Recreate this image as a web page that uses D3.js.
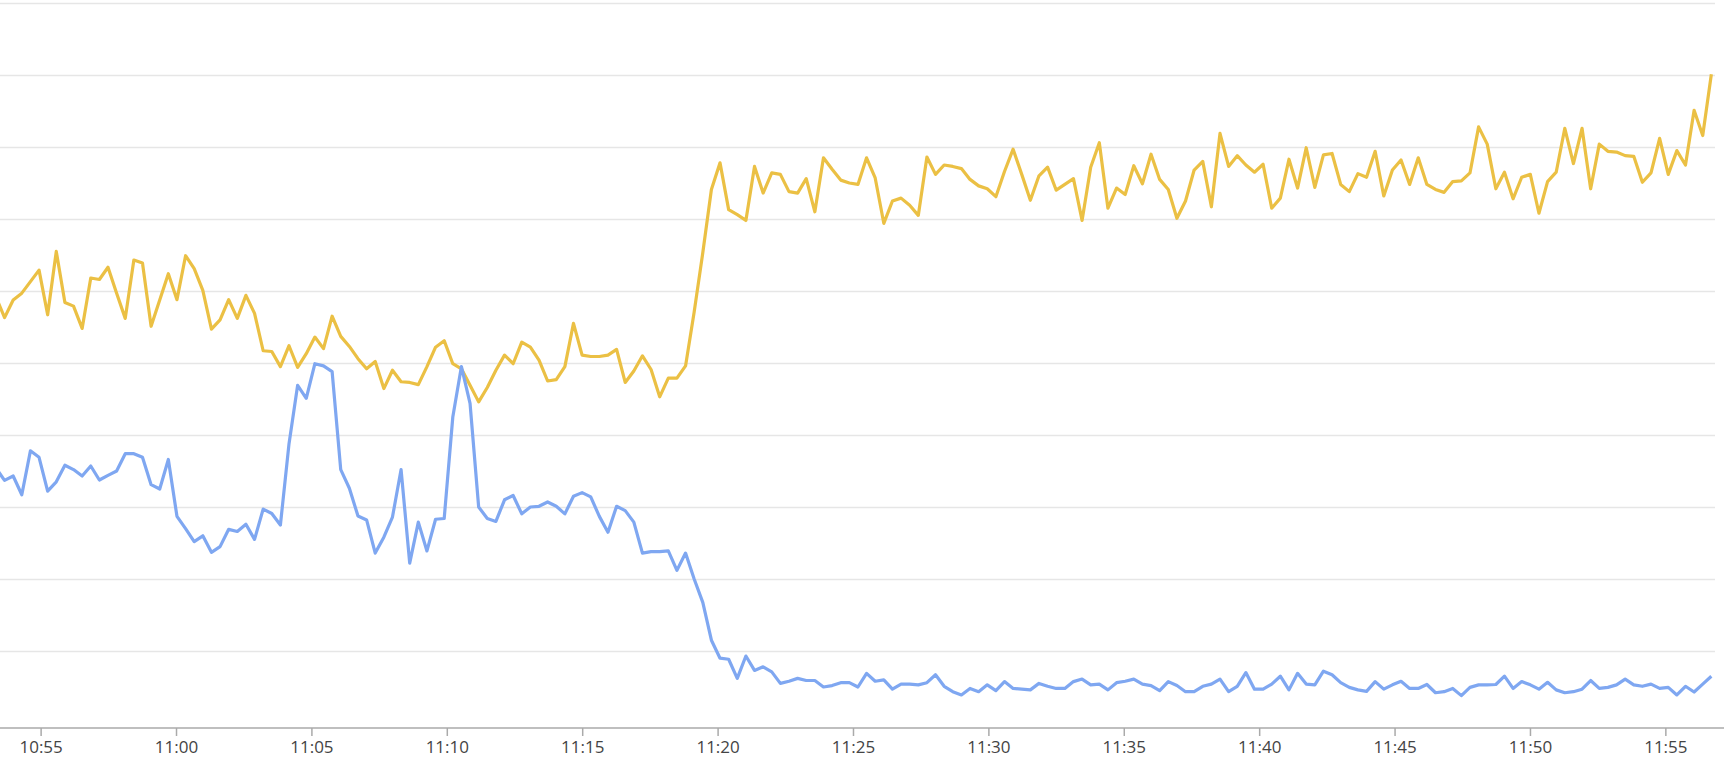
<!DOCTYPE html>
<html>
<head>
<meta charset="utf-8">
<script src="https://cdn.jsdelivr.net/npm/d3@7"></script>
<style>
  html, body { margin: 0; padding: 0; background: #fff; }
  #chart text { font-family: "Open Sans", sans-serif; }
</style>
</head>
<body>
<svg id="chart"></svg>
<script>
// samples are ~19.1 s apart, first one sits just left of the plot
let startTime = new Date(2024, 0, 1, 10, 53, 21);
let stepMs = 19100;

let yellowValues = [
  59.2, 56.3, 58.75, 59.7, 61.3, 62.9, 56.7, 65.5, 58.4, 57.9, 54.8,
  61.8, 61.6, 63.3, 59.7, 56.2, 64.3, 63.9, 55.1, 58.75, 62.4,
  58.8, 64.9, 63.1, 60.1, 54.7, 56.0, 58.8, 56.2, 59.4, 56.9,
  51.7, 51.6, 49.5, 52.4, 49.4, 51.3, 53.6, 52.0, 56.5, 53.7,
  52.3, 50.6, 49.2, 50.2, 46.45, 49.0, 47.4, 47.3, 47.0, 49.5,
  52.2, 53.1, 49.9, 49.2, 46.9, 44.6, 46.6, 49.0, 51.1, 49.9,
  52.9, 52.2, 50.4, 47.5, 47.7, 49.5, 55.5, 51.1, 50.9, 50.9,
  51.1, 51.9, 47.3, 48.9, 51.0, 49.1, 45.3, 47.9, 47.9, 49.6,
  57.1, 65.3, 74.1, 77.8, 71.3, 70.6, 69.8, 77.3, 73.6, 76.4,
  76.2, 73.8, 73.6, 75.6, 71.0, 78.5, 76.9, 75.4, 75.0, 74.8,
  78.5, 75.7, 69.4, 72.5, 72.9, 71.9, 70.5, 78.6, 76.2, 77.5,
  77.3, 77.0, 75.5, 74.6, 74.2, 73.1, 76.6, 79.7, 76.2, 72.6,
  76.0, 77.2, 74.0, 74.8, 75.6, 69.8, 77.2, 80.6, 71.5, 74.3,
  73.4, 77.4, 74.9, 79.0, 75.5, 74.1, 70.1, 72.5, 76.8, 78.0,
  71.7, 81.9, 77.3, 78.8, 77.5, 76.5, 77.6, 71.5, 72.9, 78.3,
  74.3, 79.9, 74.4, 78.9, 79.1, 74.8, 73.8, 76.3, 75.8, 79.4,
  73.2, 76.8, 78.2, 74.8, 78.5, 74.8, 74.1, 73.7, 75.2, 75.3,
  76.4, 82.8, 80.4, 74.2, 76.5, 72.8, 75.8, 76.2, 70.8, 75.2,
  76.5, 82.6, 77.7, 82.6, 74.2, 80.4, 79.4, 79.3, 78.8, 78.7,
  75.1, 76.4, 81.2, 76.2, 79.5, 77.5, 85.1, 81.6, 90.1
];

let blueValues = [
  35.4, 33.7, 34.3, 31.7, 37.8, 36.9, 32.2, 33.5, 35.8, 35.2, 34.3,
  35.7, 33.75, 34.4, 35.0, 37.4, 37.4, 36.9, 33.1, 32.5, 36.6,
  28.7, 27.0, 25.2, 26.0, 23.7, 24.5, 26.9, 26.6, 27.6, 25.5,
  29.7, 29.1, 27.5, 38.8, 46.9, 45.1, 49.9, 49.6, 48.8, 35.2,
  32.6, 28.75, 28.2, 23.6, 25.8, 28.6, 35.2, 22.2, 27.9, 23.9,
  28.3, 28.4, 42.5, 49.5, 44.4, 30.0, 28.4, 28.0, 31.0, 31.6,
  29.05, 30.0, 30.1, 30.7, 30.1, 29.05, 31.5, 32.0, 31.4, 28.7,
  26.5, 30.1, 29.5, 27.9, 23.6, 23.8, 23.8, 23.9, 21.2, 23.6,
  20.0, 16.75, 11.5, 9.0, 8.85, 6.2, 9.3, 7.3, 7.8, 7.1,
  5.5, 5.8, 6.2, 5.9, 5.9, 5.0, 5.2, 5.6, 5.6, 5.0,
  6.9, 5.8, 6.0, 4.7, 5.4, 5.4, 5.3, 5.6, 6.7, 5.1,
  4.35, 3.9, 4.8, 4.35, 5.3, 4.5, 5.75, 4.8, 4.7, 4.6,
  5.5, 5.1, 4.8, 4.8, 5.75, 6.1, 5.3, 5.4, 4.6, 5.6,
  5.8, 6.1, 5.4, 5.2, 4.5, 5.75, 5.2, 4.35, 4.35, 5.1,
  5.4, 6.1, 4.35, 5.1, 7.0, 4.7, 4.7, 5.4, 6.5, 4.6,
  6.9, 5.4, 5.3, 7.2, 6.7, 5.6, 4.95, 4.6, 4.4, 5.75,
  4.7, 5.3, 5.8, 4.8, 4.8, 5.35, 4.2, 4.35, 4.8, 3.8,
  4.95, 5.3, 5.3, 5.35, 6.5, 4.8, 5.75, 5.3, 4.7, 5.65,
  4.6, 4.2, 4.35, 4.7, 5.9, 4.8, 4.95, 5.3, 6.1, 5.3,
  5.1, 5.4, 4.8, 4.95, 3.9, 5.1, 4.3, 5.4, 6.5
];

let gridValues = [10, 20, 30, 40, 50, 60, 70, 80, 90, 100];

let width = 1724;
let height = 766;
let plotRight = 1715;
let plotBottom = 728;

let canvas = d3.select("#chart")
canvas.attr("width", width);
canvas.attr("height", height);

let xScale = d3.scaleTime()
               .domain([new Date(2024, 0, 1, 10, 53, 30), new Date(2024, 0, 1, 11, 56, 50)])
               .range([0, plotRight]);

let yScale = d3.scaleLinear()
               .domain([-0.694, 100.417])
               .range([plotBottom, 0]);

let timeOf = (i) => new Date(startTime.getTime() + i * stepMs);

// gridlines
let grid = d3.axisLeft(yScale)
             .tickValues(gridValues)
             .tickSize(-plotRight)
             .tickFormat("");

let gridG = canvas.append("g")
                  .attr("class", "grid")
                  .call(grid);
gridG.select(".domain").remove();
gridG.selectAll("line")
     .attr("stroke", "#e6e6e6")
     .attr("stroke-width", 1.6);

// x axis
let xAxis = d3.axisBottom(xScale)
              .ticks(d3.timeMinute.every(5))
              .tickFormat(d3.timeFormat("%H:%M"))
              .tickSize(8)
              .tickPadding(5);

let axisG = canvas.append("g")
                  .attr("id", "x-axis")
                  .attr("transform", "translate(0, " + plotBottom + ")")
                  .call(xAxis);
axisG.select(".domain").remove();
axisG.append("line")
     .attr("x1", 0)
     .attr("x2", width)
     .attr("stroke", "#aaaaaa")
     .attr("stroke-width", 1.5);
axisG.selectAll(".tick line")
     .attr("stroke", "#aaaaaa")
     .attr("stroke-width", 1.5);
axisG.selectAll(".tick text")
     .attr("fill", "#444444")
     .style("font-size", "17px");

// series
let line = d3.line()
             .x((d, i) => xScale(timeOf(i)))
             .y((d) => yScale(d));

canvas.append("path")
      .datum(yellowValues)
      .attr("fill", "none")
      .attr("stroke", "#ebc044")
      .attr("stroke-width", 3.2)
      .attr("stroke-linejoin", "round")
      .attr("d", line);

canvas.append("path")
      .datum(blueValues)
      .attr("fill", "none")
      .attr("stroke", "#7fa7f1")
      .attr("stroke-width", 3.2)
      .attr("stroke-linejoin", "round")
      .attr("d", line);
</script>
</body>
</html>
